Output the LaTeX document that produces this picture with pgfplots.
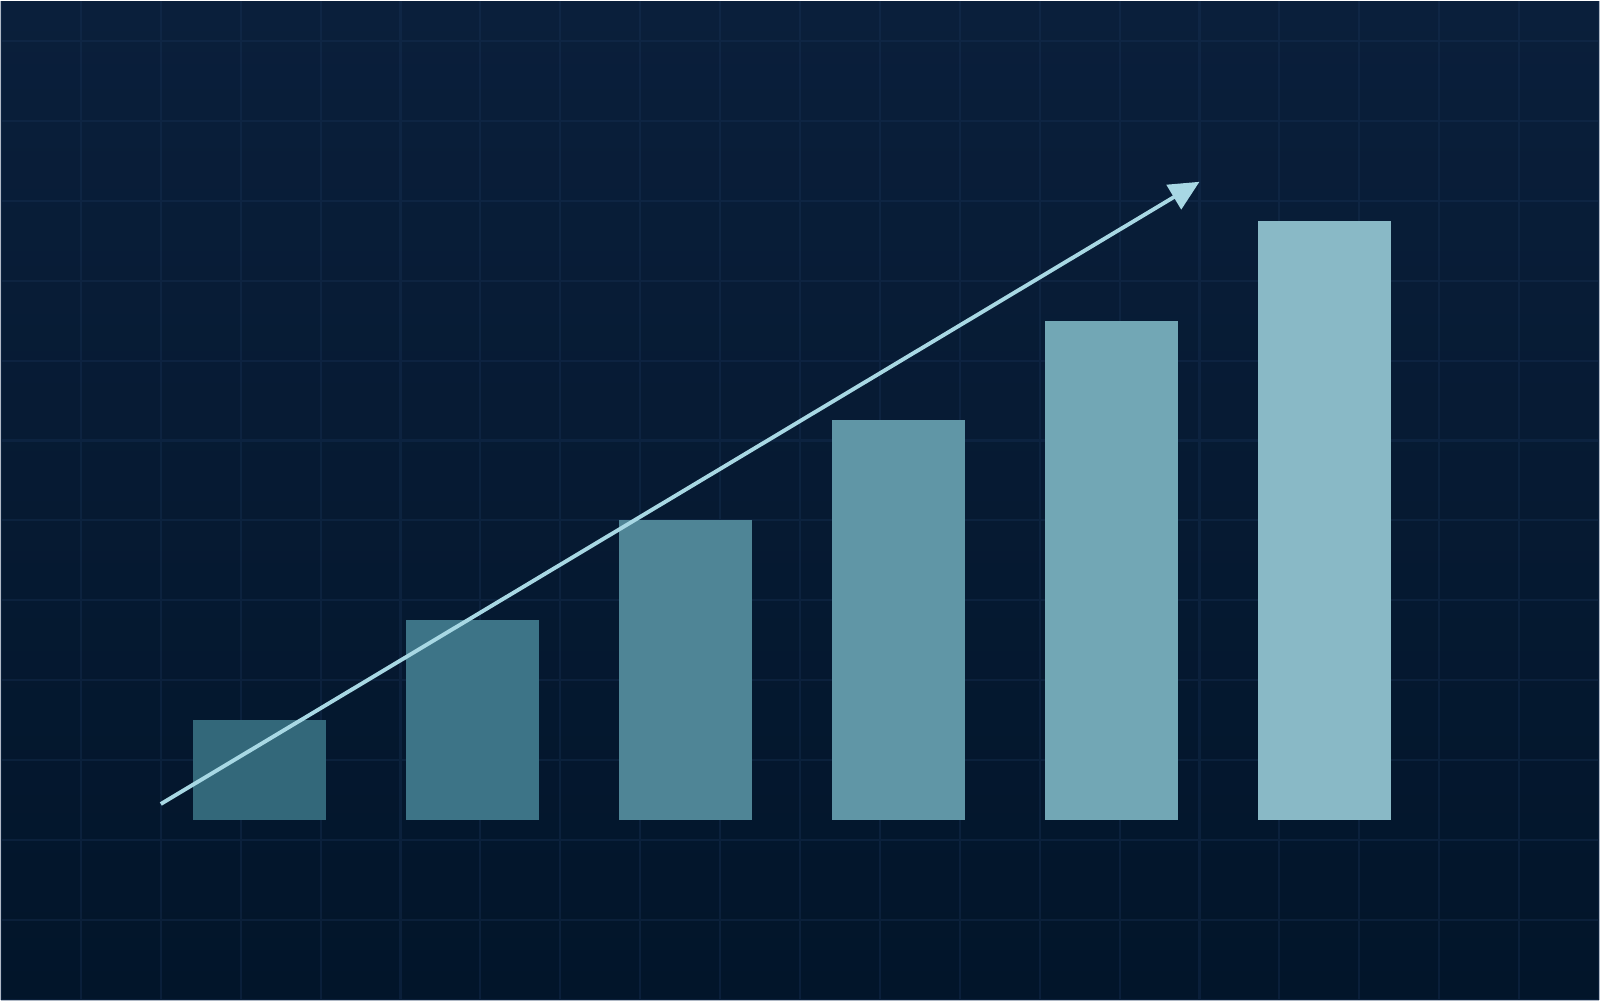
\documentclass[border=0pt]{standalone}
\usepackage{pgfplots}
\pgfplotsset{compat=1.18}
\usetikzlibrary{arrows.meta}

\definecolor{bgtop}{HTML}{0A1F3B}
\definecolor{bgbot}{HTML}{02152A}
\definecolor{gridc}{HTML}{1A3458}
\definecolor{barA}{HTML}{33687A}
\definecolor{barB}{HTML}{3D7487}
\definecolor{barC}{HTML}{4F8596}
\definecolor{barD}{HTML}{6096A6}
\definecolor{barE}{HTML}{72A7B5}
\definecolor{barF}{HTML}{89B9C6}
\definecolor{trend}{HTML}{A8D8E4}

\begin{document}
\begin{tikzpicture}
    % background and faint grid
    \shade[top color=bgtop, bottom color=bgbot] (0,0) rectangle (16,10);
    \draw[gridc, opacity=0.35, line width=0.6pt, step=0.8] (0,0) grid (16,10);
    \begin{axis}[
            at={(0,0)}, anchor=south west,
            scale only axis,
            width=16cm, height=10cm,
            hide axis,
            xmin=-0.2128, xmax=7.287,
            ymin=-1.8, ymax=8.2,
            ybar,
            bar width=1.335cm,
            clip=false,
        ]
        \addplot[fill=barA, draw=none, bar shift=0pt] coordinates {(1,1)};
        \addplot[fill=barB, draw=none, bar shift=0pt] coordinates {(2,2)};
        \addplot[fill=barC, draw=none, bar shift=0pt] coordinates {(3,3)};
        \addplot[fill=barD, draw=none, bar shift=0pt] coordinates {(4,4)};
        \addplot[fill=barE, draw=none, bar shift=0pt] coordinates {(5,5)};
        \addplot[fill=barF, draw=none, bar shift=0pt] coordinates {(6,6)};
        % trend arrow
        \addplot[sharp plot, trend, line width=1.1pt,
            -{Triangle[length=0.3cm, width=0.28cm]}]
            coordinates {(0.537,0.16) (5.412,6.39)};
    \end{axis}
\end{tikzpicture}
\end{document}
